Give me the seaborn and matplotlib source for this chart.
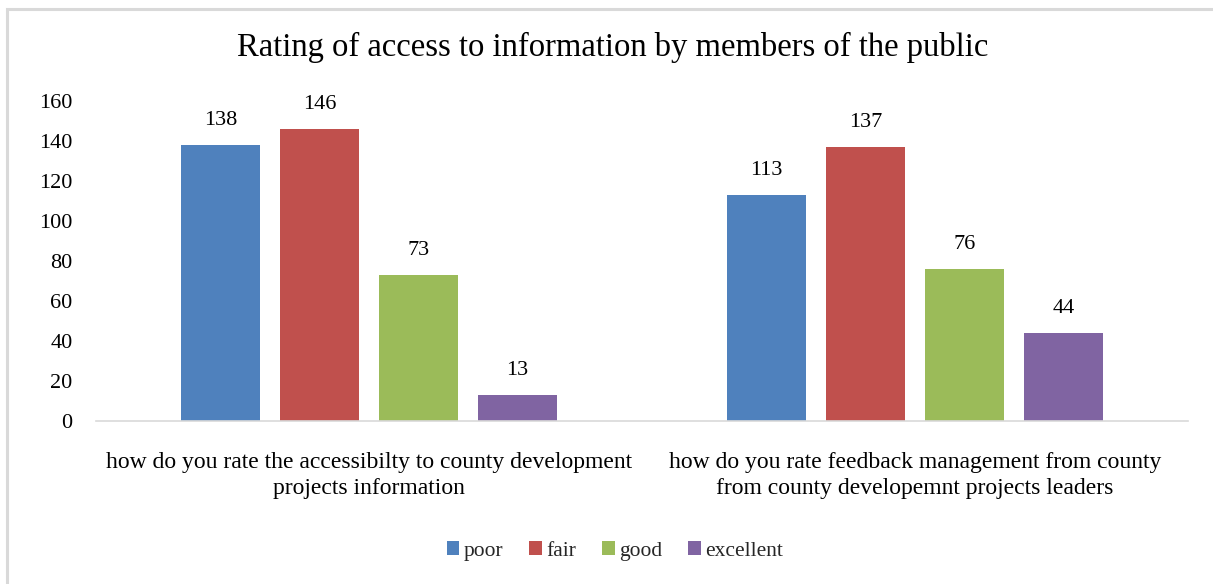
import matplotlib
matplotlib.use("Agg")
import matplotlib.pyplot as plt
from matplotlib.patches import Rectangle
import seaborn as sns
import pandas as pd

# Survey responses by question and rating
questions = [
    "how do you rate the accessibilty to county development\nprojects information",
    "how do you rate feedback management from county\nfrom county developemnt projects leaders",
]
ratings = ["poor", "fair", "good", "excellent"]
poor = [138, 113]
fair = [146, 137]
good = [73, 76]
excellent = [13, 44]
yticks = [0, 20, 40, 60, 80, 100, 120, 140, 160]
colors = ["#4F81BD", "#C0504D", "#9BBB59", "#8064A2"]

rows = []
for rating, vals in zip(ratings, [poor, fair, good, excellent]):
    for q, v in zip(questions, vals):
        rows.append({"question": q, "rating": rating, "count": v})
df = pd.DataFrame(rows)

sns.set_theme(style="white")
plt.rcParams["font.family"] = ["Liberation Serif", "DejaVu Serif"]

W, H = 1213, 584
fig = plt.figure(figsize=(W / 100, H / 100), dpi=100)
ax = fig.add_axes([96 / W, 1 - 421 / H, (1188 - 96) / W, (421 - 101) / H])

sns.barplot(data=df, x="question", y="count", hue="rating", hue_order=ratings,
            palette=colors, width=0.725, gap=0.21, ax=ax, saturation=1,
            edgecolor="none", legend=True)

for cont in ax.containers:
    ax.bar_label(cont, fmt="%d", padding=11, fontsize=16, color="black")

ax.set_ylim(0, 160)
ax.set_yticks(yticks)
ax.set_xlabel("")
ax.set_ylabel("")
ax.tick_params(axis="y", length=0, pad=17, labelsize=16, labelcolor="black")
ax.tick_params(axis="x", length=0, pad=22, labelsize=17, labelcolor="black")
for lab in ax.get_xticklabels():
    lab.set_linespacing(1.35)
for side in ["top", "right", "left"]:
    ax.spines[side].set_visible(False)
ax.spines["bottom"].set_color("#D9D9D9")
ax.spines["bottom"].set_linewidth(1.2)
ax.grid(False)

leg = ax.legend_
handles = leg.legend_handles
leg.remove()
fig.legend(handles, ratings, loc="center", bbox_to_anchor=(0.507, 1 - 551 / H),
           ncol=4, frameon=False, fontsize=15.5, handlelength=0.6, handleheight=0.6,
           handletextpad=0.2, columnspacing=1.2)

fig.text(0.505, 1 - 47 / H, "Rating of access to information by members of the public",
         ha="center", va="center", fontsize=23.5, color="black")

# chart frame
fig.patches.append(Rectangle((7 / W, -0.2), 1.2, (H - 9) / H + 0.2, transform=fig.transFigure,
                             fill=False, edgecolor="#D9D9D9", linewidth=2.2))

fig.savefig("out.png", dpi=100, facecolor="white")
